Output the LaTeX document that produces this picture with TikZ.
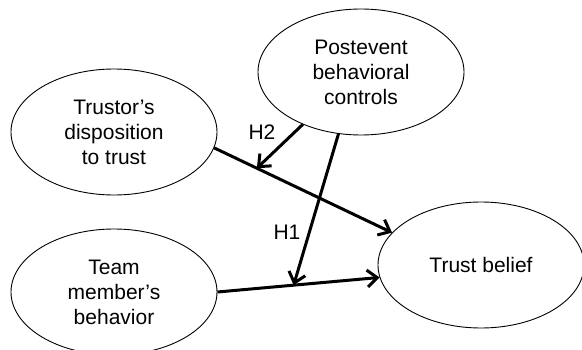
\documentclass[tikz,border=0pt]{standalone}
\usepackage{fontspec}
\setmainfont{Liberation Sans}
\usetikzlibrary{positioning, calc, arrows.meta, shapes.geometric}
\definecolor{Dark}{HTML}{000000}
\tikzset{
    construct/.style={ellipse, draw=Dark, line width=0.9pt, minimum width=206pt, minimum height=126pt, inner sep=0pt, align=center, text=Dark, font=\fontsize{21}{25}\selectfont},
    effect/.style={-{Straight Barb[length=10pt, width=17pt]}, line width=3pt, color=Dark},
    hyplabel/.style={font=\fontsize{21}{25}\selectfont, text=Dark},
}

\begin{document}
\begin{tikzpicture}[x=1pt, y=1pt]
    \useasboundingbox (0,0) rectangle (582,349);

    % Costrutti del modello
    \node[construct] (post) at (361, 277) {Postevent\\behavioral\\controls};
    \node[construct] (trustor) at (114, 217) {Trustor's\\disposition\\to trust};
    \node[construct] (team) at (114, 57) {Team\\member's\\behavior};
    \node[construct] (belief) at (481, 84) {Trust belief};

    % Effetti diretti
    \draw[effect] (trustor.-9) -- (belief.160);
    \draw[effect] (team.0) -- (belief.187);

    % Punti di moderazione sulle frecce
    \coordinate (modH2) at ($(trustor.-9)!0.24!(belief.160)$);
    \coordinate (modH1) at ($(team.0)!0.47!(belief.187)$);

    % Moderazione (H1, H2)
    \draw[effect] (post.222) -- (modH2);
    \draw[effect] (post.250) -- (modH1);
    \node[hyplabel] (labH2) at (262, 217) {H2};
    \node[hyplabel] (labH1) at (287, 117) {H1};
\end{tikzpicture}
\end{document}
